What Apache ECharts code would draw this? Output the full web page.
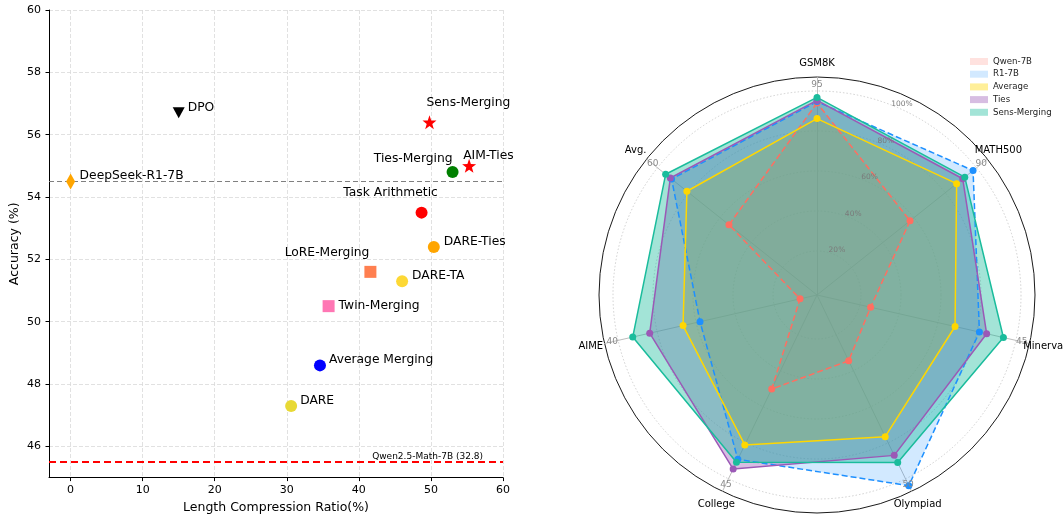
<!DOCTYPE html>
<html><head><meta charset="utf-8">
<script src="https://cdn.jsdelivr.net/npm/echarts/dist/echarts.min.js"></script>
<style>html,body{margin:0;padding:0;background:#fff}#c{width:1063px;height:519px}</style>
</head><body><div id="c"></div><script>
// ---------- Scatter data ----------
const methods = ['DeepSeek-R1-7B','DPO','Sens-Merging','AIM-Ties','Ties-Merging','Task Arithmetic','DARE-Ties','LoRE-Merging','DARE-TA','Twin-Merging','Average Merging','DARE'];
const compression = [0, 15.0, 49.8, 55.3, 53.0, 48.7, 50.4, 41.6, 46.0, 35.8, 34.6, 30.6];
const accuracy = [54.5, 56.7, 56.4, 55.0, 54.8, 53.5, 52.4, 51.6, 51.3, 50.5, 48.6, 47.3];
const baselineR1 = 54.5;
const baselineQwen = 45.5;
const baselineQwenLabel = 'Qwen2.5-Math-7B (32.8)';
const xTicks = [0, 10, 20, 30, 40, 50, 60];
const yTicks = [46, 48, 50, 52, 54, 56, 58, 60];

// ---------- Radar data (normalised %, clockwise from top) ----------
const benchmarks = ['GSM8K','MATH500','Minerva','Olympiad','College','AIME','Avg.'];
const benchmarkMaxLabels = ['95','90','45','50','45','40','60'];
const ringLevels = [20, 40, 60, 80, 100];
const radarSeriesNames = ['Qwen-7B','R1-7B','Average','Ties','Sens-Merging'];
const qwen7b      = [94.0, 57.5, 25.5, 34.5, 50.2, 6.7, 54.3];
const r17b        = [94.7, 97.8, 81.3, 103.8, 89.2, 58.0, 91.0];
const averageM    = [86.2, 87.3, 68.8, 76.6, 81.2, 66.7, 81.2];
const tiesM       = [95.3, 91.2, 85.0, 87.0, 94.6, 83.8, 91.8];
const sensMerging = [96.8, 92.5, 93.6, 91.0, 90.8, 92.5, 94.8];

// ---------- Styles ----------
const FONT = 'DejaVu Sans';
const STAR = 'path://M0,-10 L2.35,-3.24 L9.51,-3.09 L3.8,1.24 L5.88,8.09 L0,4 L-5.88,8.09 L-3.8,1.24 L-9.51,-3.09 L-2.35,-3.24 Z';
const pointStyle = {
  'DeepSeek-R1-7B': {symbol:'diamond', size:[9,16], color:'#FFA500', align:'left', off:[9,-6]},
  'DPO': {symbol:'triangle', size:[12,11], rotate:180, color:'#000000', align:'left', off:[9,-5]},
  'Sens-Merging': {symbol:STAR, size:14, color:'#FF0000', align:'left', off:[-3,-19]},
  'AIM-Ties': {symbol:STAR, size:14, color:'#FF0000', align:'left', off:[-6,-10]},
  'Ties-Merging': {symbol:'circle', size:12, color:'#008000', align:'right', off:[0,-13]},
  'Task Arithmetic': {symbol:'circle', size:12, color:'#FF0000', align:'center', off:[-31,-20]},
  'DARE-Ties': {symbol:'circle', size:12, color:'#FFA500', align:'left', off:[10,-5]},
  'LoRE-Merging': {symbol:'rect', size:12, color:'#FF7F50', align:'right', off:[-1,-19]},
  'DARE-TA': {symbol:'circle', size:12, color:'#FDD835', align:'left', off:[10,-5]},
  'Twin-Merging': {symbol:'rect', size:12, color:'#FF77B4', align:'left', off:[10,0]},
  'Average Merging': {symbol:'circle', size:12, color:'#0000FF', align:'left', off:[9,-6]},
  'DARE': {symbol:'circle', size:12, color:'#E8D935', align:'left', off:[9,-5]}
};
const radarStyle = [
  {color:'#FF6F61', fill:'rgba(255,111,97,0.2)', dash:[6,3]},
  {color:'#1E90FF', fill:'rgba(30,144,255,0.2)', dash:[6,3]},
  {color:'#FFD700', fill:'rgba(255,215,0,0.4)', dash:'solid'},
  {color:'#9B59B6', fill:'rgba(155,89,182,0.4)', dash:'solid'},
  {color:'#1ABC9C', fill:'rgba(26,188,156,0.4)', dash:'solid'}
];
const radarValues = [qwen7b, r17b, averageM, tiesM, sensMerging];

// ---------- Radar layout ----------
const CX = 817, CY = 295, R = 218, RMIN = -2, RMAX = 107;
const N = benchmarks.length;
// ECharts radar goes counter-clockwise; reorder clockwise arrays
const ecOrder = Array.from({length:N}, (_, j) => (N - j) % N);
const reorder = arr => ecOrder.map(i => arr[i]);
const rOf = p => R * (p - RMIN) / (RMAX - RMIN);
const pt = (deg, r) => [CX + r * Math.sin(deg * Math.PI / 180), CY - r * Math.cos(deg * Math.PI / 180)];

const graphics = [];
ringLevels.forEach(p => {
  graphics.push({type:'circle', silent:true, z:1, shape:{cx:CX, cy:CY, r:rOf(p)},
    style:{fill:null, stroke:'#c4c4c4', lineWidth:0.8, lineDash:[1.5,2]}});
  const [x, y] = pt(24, rOf(p) + 5);
  graphics.push({type:'text', silent:true, z:50, style:{text:p + '%', x, y, fill:'#7a7a7a', font:'7.5px ' + FONT,
    align:'center', verticalAlign:'middle', textAlign:'center', textVerticalAlign:'middle'}});
});
benchmarks.forEach((b, k) => {
  const deg = k * 360 / N;
  let [x, y] = pt(deg, 210);
  graphics.push({type:'text', silent:true, z:50, style:{text:benchmarkMaxLabels[k], x, y, fill:'#8a8a8a', font:'9px ' + FONT,
    align:'center', verticalAlign:'middle', textAlign:'center', textVerticalAlign:'middle'}});
  [x, y] = pt(deg, 232);
  graphics.push({type:'text', silent:true, z:50, style:{text:b, x, y, fill:'#000', font:'10px ' + FONT,
    align:'center', verticalAlign:'middle', textAlign:'center', textVerticalAlign:'middle'}});
});

const scatterData = methods.map((m, i) => {
  const s = pointStyle[m];
  return {
    name: m, value: [compression[i], accuracy[i]],
    symbol: s.symbol, symbolSize: s.size, symbolRotate: s.rotate || 0,
    itemStyle: {color: s.color, opacity: 1},
    label: {show:true, position:'inside', formatter: m, align: s.align, verticalAlign:'middle',
      offset: s.off, color:'#000', fontSize:12.3, fontFamily:FONT}
  };
});

// fills drawn below all outlines (like matplotlib patches vs lines)
const radarFills = radarSeriesNames.map((n, i) => ({
  type:'radar', name:n, z:2, symbol:'none',
  lineStyle:{width:0, opacity:0},
  itemStyle:{color:radarStyle[i].color},
  areaStyle:{color:radarStyle[i].fill, opacity:1},
  data:[{name:n, value: reorder(radarValues[i])}]
}));
const radarLines = radarSeriesNames.map((n, i) => ({
  type:'radar', name:n, z:3,
  symbol:'circle', symbolSize:7,
  lineStyle:{color:radarStyle[i].color, width:1.5, type:radarStyle[i].dash},
  itemStyle:{color:radarStyle[i].color, opacity:1},
  data:[{name:n, value: reorder(radarValues[i])}]
}));

const chart = echarts.init(document.getElementById('c'), null, {renderer:'canvas'});
chart.setOption({
  animation: false,
  backgroundColor: '#fff',
  textStyle: {fontFamily: FONT},
  grid: {left:49, right:560, top:10, bottom:40, containLabel:false},
  xAxis: {
    type:'value', min:-3, max:60, minInterval:10, maxInterval:10,
    name:'Length Compression Ratio(%)', nameLocation:'middle', nameGap:23,
    nameTextStyle:{fontSize:12.5, color:'#000', fontFamily:FONT},
    axisLine:{show:true, onZero:false, lineStyle:{color:'#000', width:1}},
    axisTick:{show:true, length:3.5, lineStyle:{color:'#000'}, customValues: xTicks},
    axisLabel:{fontSize:11, color:'#000', fontFamily:FONT, margin:7.5, customValues: xTicks},
    splitLine:{show:true, lineStyle:{color:'#d9d9d9', type:[4,2], width:0.8}}
  },
  yAxis: {
    type:'value', min:45, max:60, minInterval:2, maxInterval:2,
    name:'Accuracy (%)', nameLocation:'middle', nameGap:27.5, nameRotate:90,
    nameTextStyle:{fontSize:12.5, color:'#000', fontFamily:FONT},
    axisLine:{show:true, onZero:false, lineStyle:{color:'#000', width:1}},
    axisTick:{show:true, length:3.5, lineStyle:{color:'#000'}, customValues: yTicks},
    axisLabel:{fontSize:11, color:'#000', fontFamily:FONT, margin:8, customValues: yTicks},
    splitLine:{show:true, lineStyle:{color:'#d9d9d9', type:[4,2], width:0.8}}
  },
  legend: {
    orient:'vertical', left:970, top:57, padding:0, itemWidth:18, itemHeight:7, itemGap:3.7, icon:'rect',
    selectedMode:false,
    textStyle:{fontSize:8.6, color:'#222', fontFamily:FONT},
    data: radarSeriesNames.map((n, i) => ({name:n, icon:'rect', itemStyle:{color:radarStyle[i].fill, borderWidth:0}}))
  },
  radar: {
    center:[CX, CY], radius:R, startAngle:90, shape:'circle', splitNumber:1,
    indicator: reorder(benchmarks).map(n => ({name:n, min:RMIN, max:RMAX})),
    axisName:{show:false},
    splitLine:{lineStyle:{color:'#000', width:0.9}},
    splitArea:{show:false},
    axisLine:{lineStyle:{color:'#b5b5b5', width:0.9}},
    axisTick:{show:false}, axisLabel:{show:false}
  },
  graphic: graphics,
  series: [
    {
      type:'scatter', name:'methods', data: scatterData, z:5,
      itemStyle:{opacity:1},
      markLine: {
        silent:true, symbol:['none','none'], animation:false,
        data: [
          {yAxis: baselineR1, lineStyle:{color:'#808080', type:[5,3], width:1}, label:{show:false}},
          {yAxis: baselineQwen, lineStyle:{color:'#FF0000', type:[7,4], width:1.8},
            label:{show:true, position:'insideEndTop', formatter: baselineQwenLabel, fontSize:9, color:'#000', fontFamily:FONT, distance:[20,1]}}
        ]
      }
    }
  ].concat(radarFills, radarLines)
});
</script></body></html>
